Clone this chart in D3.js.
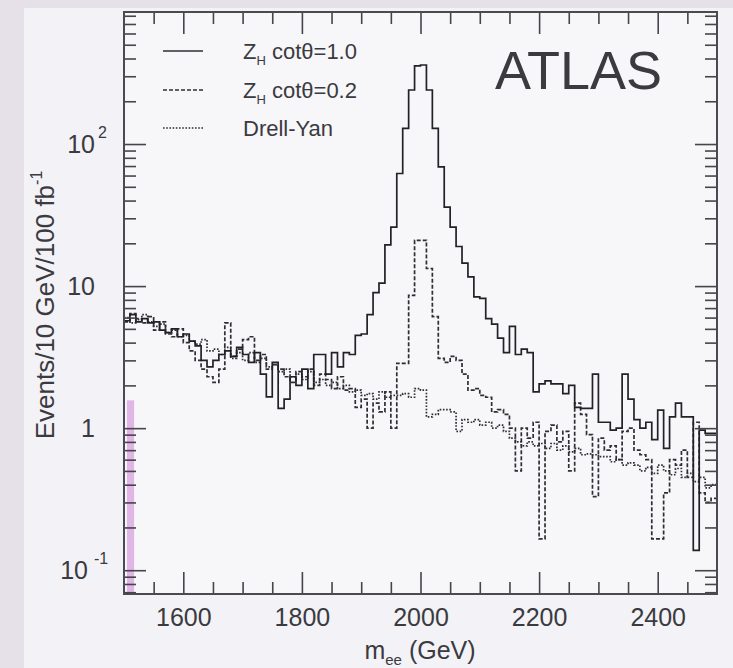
<!DOCTYPE html>
<html>
<head>
<meta charset="utf-8">
<script src="https://d3js.org/d3.v7.min.js"></script>
<style>
  html, body { margin: 0; padding: 0; background: #f3f2f6; }
  svg { display: block; }
  text { font-family: "Liberation Sans", Arial, Helvetica, sans-serif; fill: #3a3a3f; }
</style>
</head>
<body>
<svg id="chart" width="733" height="668"></svg>
<script>
// ---- Histogram binning (10 GeV bins from 1500 to 2500 GeV) ----
const binWidth = 10;
const binLow = d3.range(1500, 2500, binWidth);

// ---- Events / 10 GeV / 100 fb^-1 per bin ----
const zh10 = [
  5.7, 6.3, 5.6, 5.9, 5.5, 5.6, 4.9, 4.7, 5.0, 4.4,
  4.6, 4.1, 3.8, 3.0, 2.7, 3.0, 3.3, 3.5, 3.2, 3.7,
  3.3, 2.9, 3.4, 2.4, 1.66, 2.9, 1.38, 1.6, 2.3, 2.0,
  2.6, 1.9, 3.3, 3.3, 2.4, 3.4, 2.7, 3.4, 3.3, 4.5,
  4.6, 6.3, 9.0, 10.5, 19.5, 26, 62, 129, 240, 355,
  360, 240, 129, 69, 36, 26, 19, 14.5, 11.6, 8.4,
  8.2, 5.9, 5.4, 4.3, 3.4, 5.2, 3.3, 3.6, 3.4, 1.8,
  2.05, 2.15, 2.05, 2.05, 1.75, 2.0, 1.4, 1.38, 1.38, 2.4,
  1.1, 1.1, 0.97, 1.0, 2.4, 1.6, 1.15, 1.0, 1.1, 0.83,
  1.34, 0.72, 1.2, 1.5, 1.2, 1.2, 0.138, 0.97, 0.92, 0.92
];
const zh02 = [
  5.6, 6.4, 5.9, 5.5, 6.1, 4.9, 5.6, 4.6, 4.4, 5.0,
  4.0, 3.5, 3.0, 2.6, 2.3, 2.1, 2.6, 5.5, 3.2, 3.6,
  4.2, 4.4, 3.0, 3.3, 2.6, 2.8, 2.6, 2.3, 2.1, 2.5,
  2.3, 2.6, 2.0, 2.4, 2.2, 1.9, 2.3, 1.85, 1.9, 1.4,
  1.6, 1.0, 1.5, 1.3, 1.8, 1.0, 2.86, 2.86, 8.6, 21,
  21, 13.3, 6.1, 3.1, 2.9, 3.2, 3.0, 2.4, 1.85, 1.9,
  1.7, 1.65, 1.3, 1.35, 1.25, 1.0, 0.5, 1.0, 0.85, 1.1,
  0.166, 0.95, 1.05, 0.8, 0.95, 0.5, 1.5, 1.25, 0.9, 0.33,
  0.85, 0.7, 0.75, 0.6, 0.95, 1.0, 0.7, 0.65, 0.6, 0.166,
  0.166, 0.35, 0.6, 0.55, 0.7, 0.45, 1.1, 0.35, 0.3, 0.32
];
const drellYan = [
  6.0, 5.5, 5.8, 6.3, 5.6, 5.2, 5.4, 4.7, 4.9, 4.4,
  4.5, 4.1, 3.9, 4.2, 3.5, 3.6, 3.3, 3.7, 3.1, 3.4,
  3.0, 3.4, 2.9, 3.1, 2.7, 2.8, 2.5, 2.6, 2.3, 2.4,
  2.2, 2.5, 2.1, 2.2, 2.0, 2.1, 1.9, 2.0, 1.8, 1.85,
  1.7, 1.75, 1.6, 1.8, 1.65, 1.7, 1.7, 1.75, 1.65, 1.9,
  1.85, 1.2, 1.25, 1.35, 1.35, 1.3, 0.95, 1.15, 1.1, 1.15,
  1.05, 1.1, 1.0, 1.05, 0.95, 0.85, 0.8, 0.75, 0.8, 0.75,
  0.78, 0.72, 0.78, 0.7, 0.75, 0.68, 0.72, 0.65, 0.66, 0.65,
  0.63, 0.63, 0.58, 0.6, 0.55, 0.57, 0.55, 0.5, 0.53, 0.48,
  0.55, 0.5, 0.47, 0.52, 0.45, 0.48, 0.42, 0.45, 0.38, 0.4
];

// ---- Axis ticks and labels ----
const xMajorTicks = [1600, 1800, 2000, 2200, 2400];
const xMinorTicks = [1550, 1650, 1700, 1750, 1850, 1900, 1950, 2050, 2100, 2150, 2250, 2300, 2350, 2450];
const yMajorTicks = [0.1, 1, 10, 100];
const yTickLabels = [
  { v: 0.1, base: "10", exp: "-1" },
  { v: 1,   base: "1",  exp: null },
  { v: 10,  base: "10", exp: null },
  { v: 100, base: "10", exp: "2" }
];

// ---- Legend ----
const legendEntries = [
  { label: "Z", sub: "H", rest: " cotθ=1.0", dash: null },
  { label: "Z", sub: "H", rest: " cotθ=0.2", dash: "4,2" },
  { label: "Drell-Yan", sub: null, rest: "", dash: "1.6,1.6" }
];

const svg = d3.select("#chart");
const W = 733, H = 668;
const frame = { left: 124, right: 717, top: 12, bottom: 594 };

const x = d3.scaleLinear().domain([1500, 2500]).range([frame.left, frame.right]);
const y = d3.scaleLog().domain([0.068, 850]).range([frame.bottom, frame.top]);

// Page backdrop: darker strips at top and left, light panel elsewhere
svg.append("rect").attr("width", W).attr("height", H).attr("fill", "#e6e1e8");
svg.append("rect").attr("x", 24).attr("y", 8).attr("width", W - 24).attr("height", H - 8).attr("fill", "#f3f2f6");
svg.append("rect").attr("x", frame.left).attr("y", frame.top)
  .attr("width", frame.right - frame.left).attr("height", frame.bottom - frame.top)
  .attr("fill", "#f7f6f9");

svg.append("clipPath").attr("id", "plotClip").append("rect")
  .attr("x", frame.left).attr("y", frame.top)
  .attr("width", frame.right - frame.left).attr("height", frame.bottom - frame.top);

// Highlight strip at the left edge of the frame
svg.append("rect")
  .attr("x", x(1505)).attr("width", x(1517) - x(1505))
  .attr("y", y(1.57)).attr("height", y(0.068) - y(1.57))
  .attr("fill", "rgba(205,130,215,0.55)");

// ---- Histograms as step lines ----
const stepLine = d3.line()
  .x(d => x(d[0]))
  .y(d => y(d[1]))
  .curve(d3.curveStepAfter);

function histPoints(vals) {
  const pts = vals.map((v, i) => [binLow[i], v]);
  pts.push([binLow[binLow.length - 1] + binWidth, vals[vals.length - 1]]);
  return pts;
}

const plot = svg.append("g").attr("clip-path", "url(#plotClip)");
const series = [
  { vals: drellYan, dash: "1.6,1.6", color: "#2e2e33" },
  { vals: zh02,     dash: "4,2",     color: "#2e2e33" },
  { vals: zh10,     dash: null,      color: "#222226" }
];
series.forEach(s => {
  plot.append("path")
    .attr("d", stepLine(histPoints(s.vals)))
    .attr("fill", "none")
    .attr("stroke", s.color)
    .attr("stroke-width", 1.7)
    .attr("stroke-dasharray", s.dash)
    .attr("stroke-linejoin", "miter");
});

// ---- Axes (ticks pointing inward on all four sides) ----
function styleAxis(g, labels) {
  g.select(".domain").remove();
  g.selectAll(".tick line").attr("stroke", "#45454a").attr("stroke-width", 1.6);
  if (!labels) g.selectAll(".tick text").remove();
}
const majLen = 22, minLen = 12;

svg.append("g").attr("transform", `translate(0,${frame.bottom})`)
  .call(d3.axisBottom(x).tickValues(xMajorTicks).tickSize(-majLen).tickPadding(14).tickFormat(d3.format("d")))
  .call(g => styleAxis(g, true))
  .call(g => g.selectAll(".tick text").attr("font-size", 25).attr("fill", "#3a3a3f")
    .attr("font-family", '"Liberation Sans", Arial, sans-serif'));
svg.append("g").attr("transform", `translate(0,${frame.bottom})`)
  .call(d3.axisBottom(x).tickValues(xMinorTicks).tickSize(-minLen))
  .call(g => styleAxis(g, false));
svg.append("g").attr("transform", `translate(0,${frame.top})`)
  .call(d3.axisTop(x).tickValues(xMajorTicks).tickSize(-majLen))
  .call(g => styleAxis(g, false));
svg.append("g").attr("transform", `translate(0,${frame.top})`)
  .call(d3.axisTop(x).tickValues(xMinorTicks).tickSize(-minLen))
  .call(g => styleAxis(g, false));

const yMinorTicks = y.ticks().filter(v => !yMajorTicks.some(m => Math.abs(m - v) < 1e-9));
[[d3.axisLeft, frame.left], [d3.axisRight, frame.right]].forEach(([axisFn, pos]) => {
  svg.append("g").attr("transform", `translate(${pos},0)`)
    .call(axisFn(y).tickValues(yMajorTicks).tickSize(-majLen))
    .call(g => styleAxis(g, false));
  svg.append("g").attr("transform", `translate(${pos},0)`)
    .call(axisFn(y).tickValues(yMinorTicks).tickSize(-minLen))
    .call(g => styleAxis(g, false));
});

// Frame
svg.append("rect")
  .attr("x", frame.left).attr("y", frame.top)
  .attr("width", frame.right - frame.left).attr("height", frame.bottom - frame.top)
  .attr("fill", "none").attr("stroke", "#4a4a50").attr("stroke-width", 2);

// Y tick labels with superscript exponents
yTickLabels.forEach(t => {
  const yy = y(t.v);
  const baseRight = t.exp === "-1" ? 88 : 95;
  svg.append("text")
    .attr("x", baseRight).attr("y", yy + 9)
    .attr("text-anchor", "end").attr("font-size", 25)
    .text(t.base);
  if (t.exp) {
    svg.append("text")
      .attr("x", t.exp === "-1" ? 94 : 98).attr("y", yy - 6)
      .attr("font-size", 16)
      .text(t.exp);
  }
});

// Axis titles
const yTitle = svg.append("text")
  .attr("transform", "translate(54,305) rotate(-90)")
  .attr("text-anchor", "middle").attr("font-size", 26);
yTitle.append("tspan").text("Events/10 GeV/100 fb");
yTitle.append("tspan").attr("font-size", 16).attr("dy", -12).text("-1");

const xTitle = svg.append("text")
  .attr("x", 420).attr("y", 659)
  .attr("text-anchor", "middle").attr("font-size", 25);
xTitle.append("tspan").text("m");
xTitle.append("tspan").attr("font-size", 15).attr("dy", 6).text("ee");
xTitle.append("tspan").attr("dy", -6).text(" (GeV)");

// Legend
const legendY = [51, 90, 128];
legendEntries.forEach((e, i) => {
  const ly = legendY[i];
  svg.append("line")
    .attr("x1", 163).attr("x2", 203).attr("y1", ly).attr("y2", ly)
    .attr("stroke", "#2e2e33").attr("stroke-width", 1.6)
    .attr("stroke-dasharray", e.dash);
  const t = svg.append("text").attr("x", 243).attr("y", ly + 8).attr("font-size", 22);
  t.append("tspan").text(e.label);
  if (e.sub) {
    t.append("tspan").attr("font-size", 13).attr("dy", 6).text(e.sub);
    t.append("tspan").attr("dy", -6).text(e.rest);
  }
});

// Experiment label
svg.append("text")
  .attr("x", 495).attr("y", 89)
  .attr("font-size", 54).attr("fill", "#2c2c31")
  .text("ATLAS");
</script>
</body>
</html>
